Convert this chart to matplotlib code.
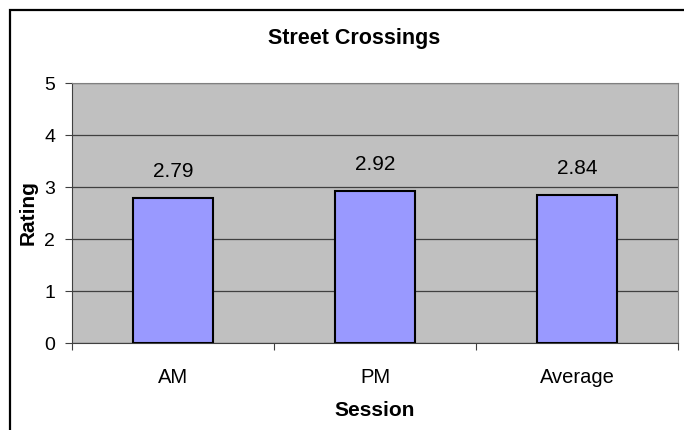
import matplotlib
matplotlib.use("Agg")
import matplotlib.pyplot as plt
from matplotlib.patches import Rectangle

sessions = ["AM", "PM", "Average"]
ratings = [2.79, 2.92, 2.84]

plt.rcParams["font.family"] = ["Liberation Sans", "DejaVu Sans"]

fig = plt.figure(figsize=(6.84, 4.30), dpi=100)
ax = fig.add_axes([72 / 684, 87 / 430, 606 / 684, 260 / 430])
ax.set_facecolor("#C0C0C0")

x = list(range(len(sessions)))
bars = ax.bar(x, ratings, width=0.4, color="#9999FF", edgecolor="black",
              linewidth=1.5, zorder=3)

# value labels above each bar
for xi, r in zip(x, ratings):
    ax.text(xi, r + 0.41, f"{r:.2f}", ha="center", va="baseline", fontsize=15)

ax.set_xlim(-0.5, 2.5)
ax.set_ylim(0, 5)
ax.set_yticks(range(6))
ax.grid(axis="y", color="#404040", linewidth=0.9, zorder=1)

# category labels centred, tick marks on the boundaries
ax.set_xticks([-0.5, 0.5, 1.5, 2.5])
ax.set_xticklabels([])
ax.set_xticks(x, minor=True)
ax.set_xticklabels(sessions, minor=True, fontsize=14.5)
ax.tick_params(axis="x", which="minor", length=0, pad=18)
ax.tick_params(axis="x", which="major", length=5, color="#404040")
ax.tick_params(axis="y", length=5, color="#404040", labelsize=14, pad=7)

for side in ["left", "bottom"]:
    ax.spines[side].set_color("#404040")
for side in ["top", "right"]:
    ax.spines[side].set_color("#808080")

ax.set_xlabel("Session", fontsize=15, fontweight="bold", va="center")
ax.xaxis.set_label_coords(0.5, (343 - 410) / 260)
ax.set_ylabel("Rating", fontsize=15, fontweight="bold", va="center")
ax.yaxis.set_label_coords((28.5 - 72) / 606, 0.5)
fig.text(354 / 684, 1 - 44 / 430, "Street Crossings", ha="center",
         va="baseline", fontsize=15.5, fontweight="bold")

# chart frame
fig.patches.append(Rectangle((10 / 684, -0.1), 1.0, 1 - 10 / 430 + 0.1,
                             transform=fig.transFigure, fill=False,
                             edgecolor="black", linewidth=1.6))

fig.savefig("out.png", dpi=100)
